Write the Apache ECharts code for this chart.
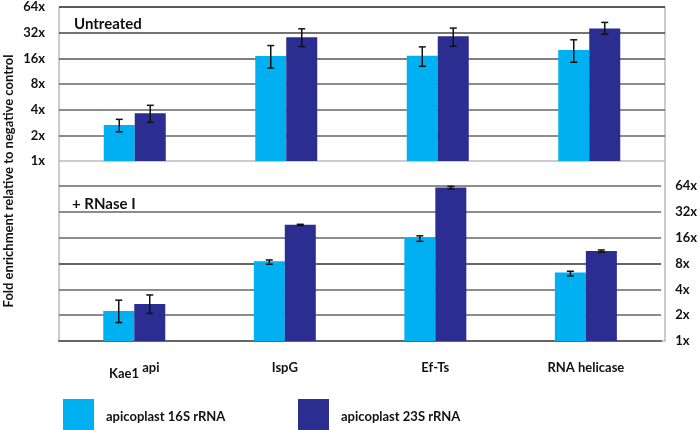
<!DOCTYPE html>
<html>
<head>
<meta charset="utf-8">
<script src="https://cdn.jsdelivr.net/npm/echarts@6/dist/echarts.min.js"></script>
<style>html,body{margin:0;padding:0;background:#fff}#c{width:700px;height:430px}</style>
</head>
<body>
<div id="c"></div>
<script>
const categories = ['Kae1 api', 'IspG', 'Ef-Ts', 'RNA helicase'];
const tickLabels = ['1x', '2x', '4x', '8x', '16x', '32x', '64x'];
const seriesNames = ['apicoplast 16S rRNA', 'apicoplast 23S rRNA'];

const untreated16S = [2.64, 17.0, 17.1, 20.0];
const untreated16SLow = [2.2, 12.3, 12.9, 14.4];
const untreated16SHigh = [3.08, 22.6, 21.8, 26.4];
const untreated23S = [3.62, 28.3, 29.1, 35.8];
const untreated23SLow = [2.84, 22.0, 22.2, 30.7];
const untreated23SHigh = [4.5, 35.5, 36.2, 42.2];

const rnase16S = [2.24, 8.5, 15.9, 6.28];
const rnase16SLow = [1.64, 7.85, 14.5, 5.73];
const rnase16SHigh = [2.99, 8.8, 16.8, 6.5];
const rnase23S = [2.70, 22.6, 61.6, 11.2];
const rnase23SLow = [2.10, 22.2, 59.0, 10.8];
const rnase23SHigh = [3.44, 22.9, 63.3, 11.5];

const C16 = '#00b0f0', C23 = '#2b2d90';
const BAR_W = 31;
const FONT = 'Lato';

function errData(low, high) { return low.map((l, i) => [i, l, high[i]]); }
function errSeries(name, xi, low, high, side) {
  return {
    type: 'custom', xAxisIndex: xi, yAxisIndex: xi, silent: true, z: 5,
    data: errData(low, high),
    encode: { x: 0, y: [1, 2] },
    renderItem: function (params, api) {
      const lo = api.coord([api.value(0), api.value(1)]);
      const hi = api.coord([api.value(0), api.value(2)]);
      const x = lo[0] + side * BAR_W / 2;
      const cap = 3.5;
      const st = { stroke: '#111', lineWidth: 1.5 };
      return { type: 'group', children: [
        { type: 'line', shape: { x1: x, y1: lo[1], x2: x, y2: hi[1] }, style: st },
        { type: 'line', shape: { x1: x - cap, y1: lo[1], x2: x + cap, y2: lo[1] }, style: st },
        { type: 'line', shape: { x1: x - cap, y1: hi[1], x2: x + cap, y2: hi[1] }, style: st }
      ]};
    }
  };
}

function yAx(gi, pos) {
  return {
    gridIndex: gi, type: 'log', logBase: 2, min: 1, max: 64, splitNumber: 6, position: pos,
    axisLine: { show: false },
    axisTick: { show: false },
    axisLabel: { margin: 14, color: '#111', fontFamily: FONT, fontWeight: 'bold', fontSize: 13,
      formatter: v => tickLabels[Math.round(Math.log2(v))] },
    splitLine: { show: true, lineStyle: { color: gi === 0 ? ['#bbb', '#666', '#666', '#666', '#555', '#444', '#333'] : ['#666', '#666', '#666', '#333', '#666', '#666', '#666'], width: 1.5 } }
  };
}

const chart = echarts.init(document.getElementById('c'), null, { renderer: 'canvas' });
chart.setOption({
  animation: false,
  backgroundColor: '#fff',
  title: [
    { text: 'Untreated', left: 69, top: 12, textStyle: { fontFamily: FONT, fontWeight: 'bold', fontSize: 15, color: '#111' } },
    { text: '+ RNase I', left: 67, top: 192, textStyle: { fontFamily: FONT, fontWeight: 'bold', fontSize: 15, color: '#111' } }
  ],
  legend: [
    { data: [seriesNames[0]], left: 58, top: 394, icon: 'rect', itemWidth: 31, itemHeight: 36, itemGap: 0,
      textStyle: { fontFamily: FONT, fontWeight: 'bold', fontSize: 13, color: '#111', padding: [0, 0, 0, 7] } },
    { data: [seriesNames[1]], left: 293, top: 394, icon: 'rect', itemWidth: 31, itemHeight: 36, itemGap: 0,
      textStyle: { fontFamily: FONT, fontWeight: 'bold', fontSize: 13, color: '#111', padding: [0, 0, 0, 7] } }
  ],
  grid: [
    { left: 59, top: 7, width: 606, height: 154 },
    { left: 59, top: 186, width: 606, height: 155 },
    { left: 59, top: 7, width: 606, height: 334, show: true, borderColor: '#999', borderWidth: 1, backgroundColor: 'transparent', z: 0 }
  ],
  graphic: [
    { type: 'text', x: 9, y: 181, rotation: Math.PI / 2,
      style: { text: 'Fold enrichment relative to negative control', fill: '#111', font: 'bold 13px ' + FONT, textAlign: 'center', textVerticalAlign: 'middle' } }
  ],
  xAxis: [
    { gridIndex: 0, type: 'category', data: categories, axisLine: { show: false }, axisTick: { show: false }, axisLabel: { show: false } },
    { gridIndex: 1, type: 'category', data: categories, axisLine: { show: true, lineStyle: { color: '#666', width: 2 } }, axisTick: { show: false },
      axisLabel: { margin: 20, color: '#111', fontFamily: FONT, fontWeight: 'bold', fontSize: 13,
        formatter: v => v === 'Kae1 api' ? '{m|Kae1} {s|api}' : '{m|' + v + '}',
        rich: { m: { fontFamily: FONT, fontWeight: 'bold', fontSize: 13, color: '#111' },
                s: { fontFamily: FONT, fontWeight: 'bold', fontSize: 13, color: '#111', verticalAlign: 'bottom', padding: [0, 0, 12, 0] } } } }
  ],
  yAxis: [yAx(0, 'left'), yAx(1, 'right')],
  series: [
    { name: seriesNames[0], type: 'bar', xAxisIndex: 0, yAxisIndex: 0, data: untreated16S, barWidth: BAR_W, barGap: '0%', itemStyle: { color: C16 } },
    { name: seriesNames[1], type: 'bar', xAxisIndex: 0, yAxisIndex: 0, data: untreated23S, barWidth: BAR_W, barGap: '0%', itemStyle: { color: C23 } },
    { name: seriesNames[0], type: 'bar', xAxisIndex: 1, yAxisIndex: 1, data: rnase16S, barWidth: BAR_W, barGap: '0%', itemStyle: { color: C16 } },
    { name: seriesNames[1], type: 'bar', xAxisIndex: 1, yAxisIndex: 1, data: rnase23S, barWidth: BAR_W, barGap: '0%', itemStyle: { color: C23 } },
    errSeries('e1', 0, untreated16SLow, untreated16SHigh, -1),
    errSeries('e2', 0, untreated23SLow, untreated23SHigh, 1),
    errSeries('e3', 1, rnase16SLow, rnase16SHigh, -1),
    errSeries('e4', 1, rnase23SLow, rnase23SHigh, 1)
  ]
});
</script>
</body>
</html>
